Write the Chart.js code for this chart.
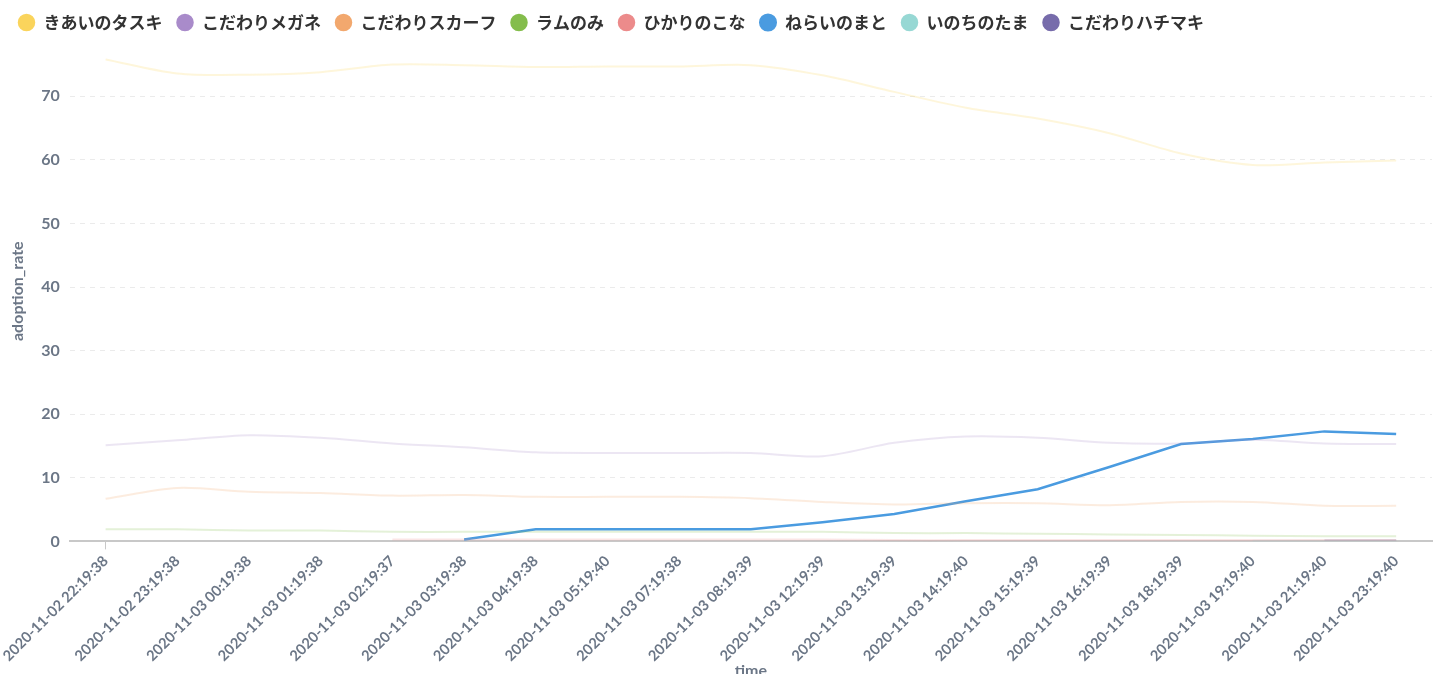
<!DOCTYPE html>
<html>
<head>
<meta charset="utf-8">
<script src="https://cdn.jsdelivr.net/npm/chart.js@4"></script>
<style>
  html, body { margin: 0; padding: 0; background: #fff; overflow: hidden; }
  #wrap { position: relative; width: 1438px; height: 687px; }
</style>
</head>
<body>
<div id="wrap"><canvas id="chart"></canvas></div>
<script>
/* ---------- data ---------- */
const times = [
  '2020-11-02 22:19:38', '2020-11-02 23:19:38', '2020-11-03 00:19:38',
  '2020-11-03 01:19:38', '2020-11-03 02:19:37', '2020-11-03 03:19:38',
  '2020-11-03 04:19:38', '2020-11-03 05:19:40', '2020-11-03 07:19:38',
  '2020-11-03 08:19:39', '2020-11-03 12:19:39', '2020-11-03 13:19:39',
  '2020-11-03 14:19:40', '2020-11-03 15:19:39', '2020-11-03 16:19:39',
  '2020-11-03 18:19:39', '2020-11-03 19:19:40', '2020-11-03 21:19:40',
  '2020-11-03 23:19:40',
];

const kiaiNoTasuki   = [75.8, 73.6, 73.4, 73.8, 75.0, 74.9, 74.6, 74.7, 74.7, 74.9, 73.3, 70.7, 68.2, 66.5, 64.2, 61.0, 59.2, 59.6, 59.9];
const kodawariMegane = [15.1, 15.9, 16.7, 16.3, 15.4, 14.8, 14.0, 13.9, 13.9, 13.9, 13.4, 15.5, 16.5, 16.3, 15.5, 15.4, 16.0, 15.4, 15.3];
const kodawariScarf  = [6.7, 8.4, 7.8, 7.6, 7.2, 7.3, 7.0, 7.0, 7.0, 6.8, 6.2, 5.8, 6.0, 6.0, 5.7, 6.2, 6.2, 5.6, 5.6];
const ramNoMi        = [1.9, 1.9, 1.7, 1.7, 1.5, 1.5, 1.5, 1.5, 1.5, 1.5, 1.5, 1.3, 1.3, 1.2, 1.1, 1.0, 0.9, 0.8, 0.8];
const hikariNoKona   = [null, null, null, null, 0.3, 0.3, 0.3, 0.3, 0.3, 0.3, 0.3, 0.2, 0.2, 0.2, 0.2, 0.2, 0.2, 0.2, 0.2];
const neraiNoMato    = [null, null, null, null, null, 0.3, 1.9, 1.9, 1.9, 1.9, 3.0, 4.3, 6.3, 8.2, 11.7, 15.3, 16.1, 17.3, 16.9];
const inochiNoTama   = [null, null, null, null, null, null, null, null, null, null, null, null, null, null, null, null, 0.1, 0.1, 0.1];
const kodawariHachimaki = [null, null, null, null, null, null, null, null, null, null, null, null, null, null, null, null, null, 0.2, 0.2];

const yTicks = [0, 10, 20, 30, 40, 50, 60, 70];

/* ---------- style ---------- */
const AXIS_TEXT = '#6b7686';

function series(label, data, color, highlighted) {
  return {
    label,
    data,
    borderColor:          highlighted ? color : color + '38',
    backgroundColor:      color,
    pointBackgroundColor: color,
    pointBorderColor:     color,
    borderWidth:          highlighted ? 2.5 : 2,
    pointRadius:          0,
    tension:              highlighted ? 0 : 0.3,
    spanGaps:             false,
  };
}

const datasets = [
  series('きあいのタスキ',   kiaiNoTasuki,      '#fad45c'),
  series('こだわりメガネ',   kodawariMegane,    '#a98bca'),
  series('こだわりスカーフ', kodawariScarf,     '#f2a86e'),
  series('ラムのみ',         ramNoMi,           '#84bd4c'),
  series('ひかりのこな',     hikariNoKona,      '#ec8b8b'),
  series('ねらいのまと',     neraiNoMato,       '#4a9be0', true),
  series('いのちのたま',     inochiNoTama,      '#97d8d4'),
  series('こだわりハチマキ', kodawariHachimaki, '#776cab'),
];

/* ---------- chart ---------- */
new Chart(document.getElementById('chart').getContext('2d'), {
  type: 'line',
  data: { labels: times, datasets },
  options: {
    responsive:          true,
    maintainAspectRatio: false,
    animation:           false,
    layout: { padding: { left: 4, right: 6, top: 0, bottom: 0 } },
    plugins: {
      legend: {
        position: 'top',
        align:    'start',
        labels: {
          color:         '#333',
          font:          { family: '"Noto Sans CJK JP", "Noto Sans", sans-serif', size: 17, weight: 'bold' },
          usePointStyle: true,
          pointStyle:    'circle',
          boxWidth:      18,
          boxHeight:     11,
          padding:       14,
        },
      },
      tooltip: { enabled: false },
    },
    scales: {
      x: {
        offset: true,
        title: {
          display: true,
          text:    'time',
          color:   AXIS_TEXT,
          font:    { family: 'Lato', size: 16, weight: 'bold' },
          padding: { top: -7, bottom: 7 },
        },
        ticks: {
          color:       AXIS_TEXT,
          font:        { family: 'Lato', size: 14.7, weight: 'bold' },
          minRotation: 45,
          maxRotation: 45,
          autoSkip:    false,
        },
        grid: {
          drawOnChartArea: false,
          tickLength:      8,
          color: ctx => (ctx.index === 0 || ctx.index === times.length) ? '#c8c8c8' : 'rgba(0,0,0,0)',
        },
        border: { display: true, color: '#c8c8c8', width: 2 },
      },
      y: {
        min: 0,
        max: 78.7,
        afterBuildTicks: axis => { axis.ticks = yTicks.map(v => ({ value: v })); },
        title: {
          display: true,
          text:    'adoption_rate',
          color:   AXIS_TEXT,
          font:    { family: 'Lato', size: 16, weight: 'bold' },
        },
        ticks: {
          color:   AXIS_TEXT,
          font:    { family: 'Lato', size: 16, weight: 'bold' },
          padding: 10,
        },
        grid: {
          color:     '#ebebeb',
          drawTicks: false,
        },
        border: { display: false, dash: [5, 5] },
      },
    },
  },
});
</script>
</body>
</html>
